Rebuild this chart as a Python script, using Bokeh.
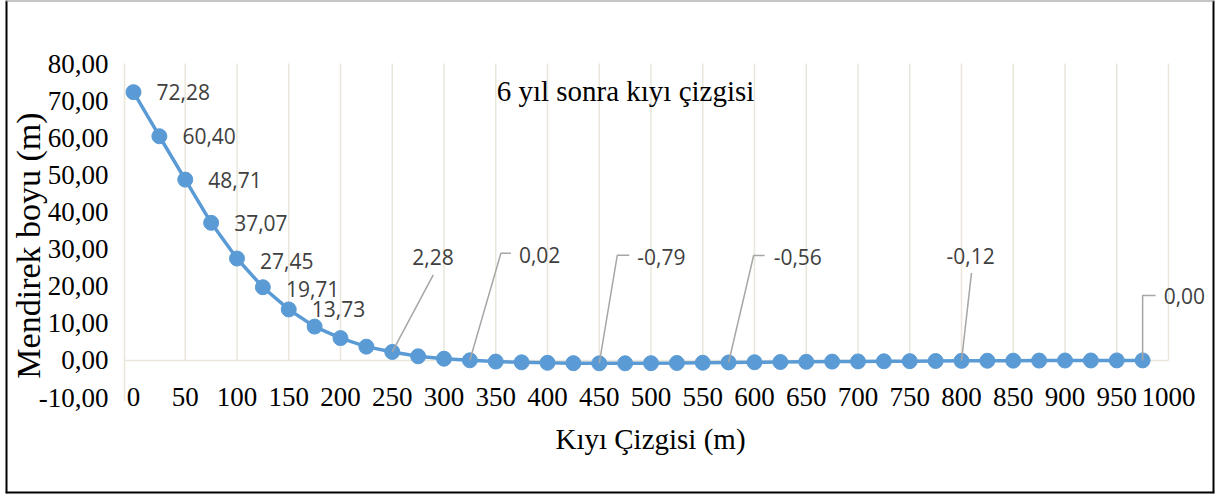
import math
from bokeh.plotting import figure
from bokeh.models import ColumnDataSource, Range1d, Label, LabelSet
from bokeh.core.properties import value
from bokeh.embed import file_html
from bokeh.resources import INLINE

# ---------------- data ----------------
x_vals = [0, 25, 50, 75, 100, 125, 150, 175, 200, 225,
          250, 275, 300, 325, 350, 375, 400, 425, 450, 475,
          500, 525, 550, 575, 600, 625, 650, 675, 700, 725,
          750, 775, 800, 825, 850, 875, 900, 925, 950, 975]
y_vals = [72.28, 60.40, 48.71, 37.07, 27.45, 19.71, 13.73, 9.10, 6.00, 3.70,
          2.28, 1.10, 0.45, 0.02, -0.32, -0.52, -0.65, -0.74, -0.79, -0.78,
          -0.75, -0.70, -0.63, -0.56, -0.50, -0.44, -0.38, -0.33, -0.28, -0.24,
          -0.20, -0.16, -0.12, -0.09, -0.07, -0.05, -0.03, -0.02, -0.01, 0.00]
labeled_idx = [0, 1, 2, 3, 4, 5, 6, 10, 13, 18, 23, 32, 39]

x_ticks = list(range(0, 1001, 50))
x_tick_labels = [str(t) for t in x_ticks]
y_ticks = [-10, 0, 10, 20, 30, 40, 50, 60, 70, 80]
y_tick_labels = ["-10,00", "0,00", "10,00", "20,00", "30,00", "40,00",
                 "50,00", "60,00", "70,00", "80,00"]

chart_title = "6 yıl sonra kıyı çizgisi"
x_title = "Kıyı Çizgisi (m)"
y_title = "Mendirek boyu (m)"

# ---------------- layout / style (pixels) ----------------
W, H = 1219, 497
FL, FR, FT, FB = 5, 1214, 0, 493          # frame = chart border
PX_X0, PX_X1000 = 133, 1168               # where x=0 / x=1000 sit
PX_Y80, PX_YM10 = 63, 397                 # where y=80 / y=-10 sit
PLOT_LEFT_PX = 124                        # left edge of plot area
sx = (PX_X1000 - PX_X0) / 1000.0
sy = (PX_YM10 - PX_Y80) / 90.0
X0 = (FL - PX_X0) / sx
X1 = (FR - PX_X0) / sx
Y1 = 80 + (PX_Y80 - FT) / sy
Y0 = -10 - (FB - PX_YM10) / sy


def px_x(px):
    return (px - PX_X0) / sx


def px_y(py):
    return 80 - (py - PX_Y80) / sy


X_LEFT = px_x(PLOT_LEFT_PX)
Y_BOT, Y_TOP = y_ticks[0], y_ticks[-1]

SERIF = "Liberation Serif"
BLUE = "#5B9BD5"
GRIDC = "#EAE6DA"
LABELC = "#404040"
LEADC = "#A6A6A6"

# data label placement in pixels: (dx to text anchor, dy up)
label_layout = {
    0: (23, 0), 1: (23, 0), 2: (23, 0), 3: (23, 0), 4: (23, -2),
    5: (23, -2), 6: (23, 0),
    10: (20, 95), 13: (49, 105), 18: (38, 106), 23: (45, 105),
    32: (-15, 105), 39: (21, 64),
}
# leader paths in pixels relative to point (dx, dy up)
leader_paths = {
    10: [(0, 0), (41, 77)],
    13: [(0, 0), (31, 107), (41, 107)],
    18: [(0, 0), (18, 108), (30, 108)],
    23: [(0, 0), (25, 107), (36, 107)],
    32: [(0, 0), (10, 88)],
    39: [(0, 0), (0, 65), (13, 65)],
}

p = figure(width=W, height=H, x_range=Range1d(X0, X1), y_range=Range1d(Y0, Y1),
           output_backend="svg", toolbar_location=None,
           x_axis_location=None, y_axis_location=None,
           min_border_left=FL, min_border_right=W - FR, min_border_top=FT,
           min_border_bottom=H - FB)
p.outline_line_color = None
p.xgrid.grid_line_color = None
p.ygrid.grid_line_color = None
p.background_fill_color = "white"
p.border_fill_color = "white"

# chart border: black left/right/bottom, thin grey top
p.segment(x0=[X0, X1, X0], y0=[Y0, Y0, Y0], x1=[X0, X1, X1], y1=[Y1, Y1, Y0],
          line_color="black", line_width=4)
p.segment(x0=[X0], y0=[Y1], x1=[X1], y1=[Y1], line_color="#8C8C8C",
          line_width=2)

# gridlines: verticals (0..80), zero line, left edge of plot area
gx = x_ticks[1:]
p.segment(x0=gx, y0=[0] * len(gx), x1=gx, y1=[Y_TOP] * len(gx),
          line_color=GRIDC, line_width=1.5)
p.segment(x0=[X_LEFT], y0=[0], x1=[x_ticks[-1]], y1=[0],
          line_color=GRIDC, line_width=1.5)
p.segment(x0=[X_LEFT], y0=[Y_BOT - 1], x1=[X_LEFT], y1=[Y_TOP],
          line_color=GRIDC, line_width=1.5)

# tick labels
ytick_src = ColumnDataSource(dict(x=[X_LEFT] * len(y_ticks), y=y_ticks,
                                  t=y_tick_labels))
p.add_layout(LabelSet(x="x", y="y", text="t", source=ytick_src, x_offset=-16,
                      text_align="right", text_baseline="middle",
                      text_font=value(SERIF), text_font_size=value("27px"),
                      text_color="black"))
xtick_src = ColumnDataSource(dict(x=x_ticks, y=[0] * len(x_ticks),
                                  t=x_tick_labels))
p.add_layout(LabelSet(x="x", y="y", text="t", source=xtick_src, y_offset=-37,
                      text_align="center", text_baseline="middle",
                      text_font=value(SERIF), text_font_size=value("27px"),
                      text_color="black"))

# axis titles and chart title
p.add_layout(Label(x=px_x(28), y=px_y(245), text=y_title, angle=math.pi / 2,
                   text_align="center", text_baseline="middle",
                   text_font=SERIF, text_font_size="34px", text_color="black"))
p.add_layout(Label(x=px_x(650), y=px_y(438), text=x_title,
                   text_align="center", text_baseline="middle",
                   text_font=SERIF, text_font_size="29px", text_color="black"))
p.add_layout(Label(x=px_x(625), y=px_y(90), text=chart_title,
                   text_align="center", text_baseline="middle",
                   text_font=SERIF, text_font_size="29px", text_color="black"))

# series
src = ColumnDataSource(dict(x=x_vals, y=y_vals))
p.line("x", "y", source=src, line_color=BLUE, line_width=3.5)
p.scatter("x", "y", source=src, size=15, fill_color=BLUE, line_color=BLUE)

# leader lines
lxs, lys = [], []
for i, path in leader_paths.items():
    lxs.append([x_vals[i] + dx / sx for dx, dy in path])
    lys.append([y_vals[i] + dy / sy for dx, dy in path])
p.multi_line(xs=lxs, ys=lys, line_color=LEADC, line_width=1.5)

# data labels
lab = dict(x=[], y=[], t=[], dx=[], dy=[])
for i in labeled_idx:
    dx, dy = label_layout[i]
    lab["x"].append(x_vals[i])
    lab["y"].append(y_vals[i])
    lab["t"].append(f"{y_vals[i]:.2f}".replace(".", ","))
    lab["dx"].append(dx)
    lab["dy"].append(dy)
lsrc = ColumnDataSource(lab)
p.add_layout(LabelSet(x="x", y="y", text="t", source=lsrc, x_offset="dx",
                      y_offset="dy", text_align="left", text_baseline="middle",
                      text_font=value("Open Sans"), text_font_size=value("21px"),
                      text_color=LABELC))

open("out.html", "w").write(file_html(p, INLINE))
